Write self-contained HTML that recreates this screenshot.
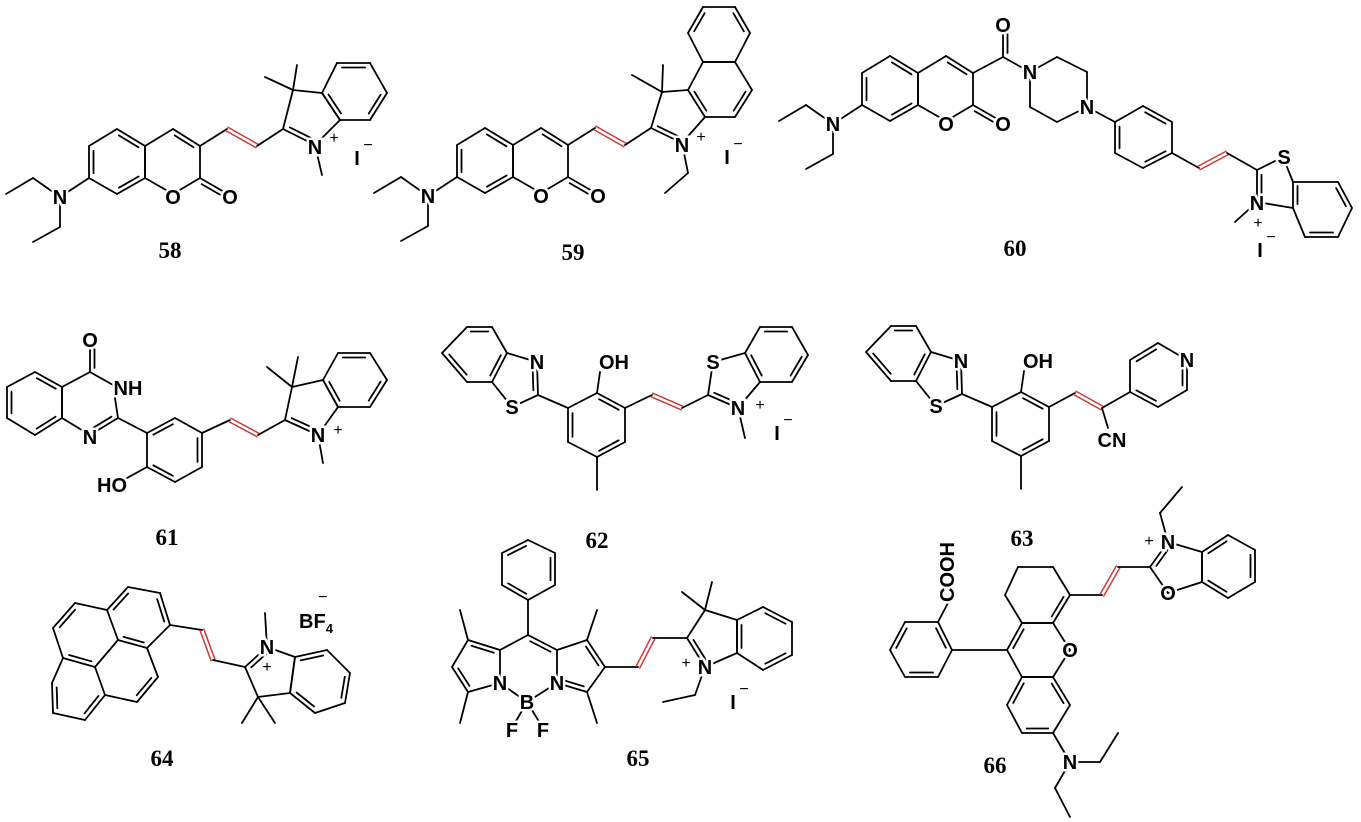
<!DOCTYPE html>
<html><head><meta charset="utf-8">
<style>
html,body{margin:0;padding:0;background:#fff;}
svg{display:block;}
.a{font-family:"Liberation Sans",sans-serif;font-weight:bold;font-size:20px;fill:#000;stroke:#fff;stroke-width:5px;paint-order:stroke;text-anchor:middle;}
.c{font-family:"Liberation Sans",sans-serif;font-size:16px;fill:#000;text-anchor:middle;}
.l{font-family:"Liberation Serif",serif;font-weight:bold;font-size:23px;fill:#000;text-anchor:middle;}
</style></head>
<body>
<svg id="s" width="1361" height="822" viewBox="0 0 1361 822" xmlns="http://www.w3.org/2000/svg">
<g id="bonds" stroke-linecap="round"></g>
<g id="txt">
<!-- 58 -->
<text class="a" x="60" y="204">N</text><text class="a" x="173" y="204">O</text><text class="a" x="230" y="204">O</text>
<text class="a" x="315" y="154">N</text><text class="c" x="334" y="143">+</text>
<text class="a" x="357" y="165">I</text><text class="c" x="368" y="150">−</text>
<!-- 59 -->
<text class="a" x="428" y="203">N</text><text class="a" x="541" y="203">O</text><text class="a" x="598" y="203">O</text>
<text class="a" x="682" y="152">N</text><text class="c" x="701" y="142">+</text>
<text class="a" x="727" y="164">I</text><text class="c" x="738" y="149">−</text>
<!-- 60 -->
<text class="a" x="833" y="131">N</text><text class="a" x="946" y="131">O</text><text class="a" x="1003" y="131">O</text>
<text class="a" x="1003" y="32">O</text><text class="a" x="1030" y="79">N</text><text class="a" x="1087" y="114">N</text>
<text class="a" x="1284" y="164">S</text><text class="a" x="1257" y="210">N</text><text class="c" x="1258" y="228">+</text>
<text class="a" x="1260" y="257">I</text><text class="c" x="1271" y="242">−</text>
<!-- 61 -->
<text class="a" x="90" y="347">O</text><text class="a" x="128" y="395">NH</text><text class="a" x="90" y="444">N</text>
<text class="a" x="112" y="492">HO</text><text class="a" x="318" y="442">N</text><text class="c" x="338" y="435">+</text>
<!-- 62 -->
<text class="a" x="537" y="369">N</text><text class="a" x="512" y="414">S</text><text class="a" x="614" y="369">OH</text>
<text class="a" x="713" y="369">S</text><text class="a" x="738" y="415">N</text><text class="c" x="760" y="410">+</text>
<text class="a" x="777" y="440">I</text><text class="c" x="788" y="425">−</text>
<!-- 63 -->
<text class="a" x="961" y="368">N</text><text class="a" x="936" y="413">S</text><text class="a" x="1038" y="368">OH</text>
<text class="a" x="1112" y="447">CN</text><text class="a" x="1187" y="367">N</text>
<!-- 64 -->
<text class="a" x="267" y="654">N</text><text class="c" x="267" y="672">+</text>
<text class="a" x="316" y="628">BF<tspan font-size="13" dy="5">4</tspan></text><text class="c" x="323" y="602">−</text>
<!-- 65 -->
<text class="a" x="500" y="690">N</text><text class="a" x="527" y="709">B</text><text class="a" x="557" y="690">N</text>
<text class="a" x="512" y="737">F</text><text class="a" x="543" y="737">F</text>
<text class="a" x="705" y="674">N</text><text class="c" x="686" y="668">+</text>
<text class="a" x="733" y="709">I</text><text class="c" x="744" y="694">−</text>
<!-- 66 -->
<text class="a" x="1070" y="657">O</text><text class="a" x="1070" y="769">N</text>
<text class="a" x="1168" y="600">O</text><text class="a" x="1168" y="549">N</text><text class="c" x="1149" y="546">+</text>
<text class="a" x="0" y="0" transform="translate(947,572) rotate(-90)" dy="7">COOH</text>
<!-- compound numbers -->
<text class="l" x="170" y="258">58</text><text class="l" x="573" y="260">59</text><text class="l" x="1015" y="256">60</text>
<text class="l" x="167" y="545">61</text><text class="l" x="597" y="548">62</text><text class="l" x="1022" y="546">63</text>
<text class="l" x="162" y="766">64</text><text class="l" x="638" y="766">65</text><text class="l" x="995" y="773">66</text>
</g>
</svg>
<script>
let out='';
function ln(a,b,col,w){out+=`<line x1="${a[0]}" y1="${a[1]}" x2="${b[0]}" y2="${b[1]}" stroke="${col||'#000'}" stroke-width="${w||1.8}"/>`;}
function s(){const p=arguments;for(let i=0;i<p.length-1;i++)ln(p[i],p[i+1]);}
function dd(a,b,c){ln(a,b);const dx=b[0]-a[0],dy=b[1]-a[1],L=Math.hypot(dx,dy);let nx=-dy/L,ny=dx/L;const mx=(a[0]+b[0])/2,my=(a[1]+b[1])/2;if((c[0]-mx)*nx+(c[1]-my)*ny<0){nx=-nx;ny=-ny;}const o=4.5,t=0.15;ln([a[0]+dx*t+nx*o,a[1]+dy*t+ny*o],[b[0]-dx*t+nx*o,b[1]-dy*t+ny*o]);}
function red(a,b){const dx=b[0]-a[0],dy=b[1]-a[1],L=Math.hypot(dx,dy);const nx=-dy/L*2,ny=dx/L*2;ln([a[0]+nx,a[1]+ny],[b[0]+nx,b[1]+ny],'#d0383a',1.5);ln([a[0]-nx,a[1]-ny],[b[0]-nx,b[1]-ny],'#d0383a',1.5);}
function ring(p,d){let cx=0,cy=0;p.forEach(q=>{cx+=q[0];cy+=q[1]});cx/=p.length;cy/=p.length;for(let i=0;i<p.length;i++){const a=p[i],b=p[(i+1)%p.length];if(d.includes(i))dd(a,b,[cx,cy]);else ln(a,b);}}
function grp(dx,dy,f){out+=`<g transform="translate(${dx},${dy})">`;f();out+='</g>';}

function coum(){
 ring([[117,129],[145,146],[145,178],[117,194],[89,178],[89,146]],[0,2,4]);
 ring([[145,146],[173,129],[200,146],[200,178],[173,194],[145,178]],[1]);
 dd([200,178],[226,193],[200,200]);
 s([89,178],[60,197]);s([60,197],[33,178],[6,194]);s([60,197],[60,227],[33,242]);
}
grp(0,0,()=>{coum();s([200,146],[227,129]);red([227,129],[257,146]);s([257,146],[283,129]);});
s([283,129],[293,90],[322,93],[340,120],[315,145]);dd([283,129],[315,145],[310,115]);
ring([[322,93],[337,63],[370,63],[387,93],[370,120],[340,120]],[1,3,5]);
s([293,90],[265,77]);s([293,90],[297,65]);s([315,145],[322,175]);
grp(368,-1,()=>{coum();s([200,146],[227,129]);red([227,129],[257,146]);s([257,146],[283,129]);});
s([651,128],[662,92],[688,90]);s([705,117],[682,143]);dd([651,128],[682,143],[675,110]);
ring([[703,62],[735,62],[752,90],[735,117],[705,117],[688,90]],[2,4]);
ring([[703,62],[688,33],[703,7],[735,7],[750,33],[735,62]],[1,3]);
s([662,92],[632,75]);s([662,92],[663,65]);s([682,143],[688,173],[665,193]);
grp(773,-73,()=>{coum();});
s([973,73],[1003,57],[1030,72]);dd([1003,57],[1003,30],[1015,45]);
ring([[1030,72],[1057,57],[1087,72],[1087,107],[1057,122],[1030,107]],[]);
s([1087,107],[1115,122]);
ring([[1115,122],[1143,106],[1172,122],[1172,153],[1143,168],[1115,153]],[1,3,5]);
s([1172,153],[1199,168]);red([1199,168],[1227,153]);s([1227,153],[1257,170]);
s([1257,170],[1283,157]);s([1283,157],[1293,182]);s([1293,208],[1257,202]);dd([1257,170],[1257,202],[1275,188]);
ring([[1293,182],[1338,182],[1352,208],[1338,237],[1305,237],[1293,208]],[1,3,5]);
s([1257,202],[1235,222]);
ring([[35,372],[62,387],[62,418],[35,435],[7,418],[7,387]],[0,2,4]);
ring([[62,387],[90,372],[113,385],[118,418],[90,435],[62,418]],[3]);
dd([90,372],[90,345],[100,358]);
s([118,418],[147,433]);
ring([[147,433],[175,418],[202,433],[202,467],[175,482],[147,467]],[0,2,4]);
s([147,467],[127,478]);
s([202,433],[230,420]);red([230,420],[258,435]);s([258,435],[285,420]);
s([285,420],[292,387],[323,380],[338,407],[318,435]);dd([285,420],[318,435],[312,405]);
ring([[323,380],[338,353],[370,353],[387,380],[370,407],[338,407]],[1,3,5]);
s([292,387],[267,367]);s([292,387],[298,357]);s([318,435],[323,463]);
function bth(){
 ring([[467,327],[492,327],[507,353],[492,382],[467,382],[442,353]],[0,2,4]);
 s([507,353],[537,362]);dd([537,362],[538,395],[520,385]);s([538,395],[512,407],[492,382]);
 s([538,395],[568,408]);
 ring([[568,408],[597,393],[625,408],[625,442],[597,457],[568,442]],[1,3,5]);
 s([597,393],[600,372]);s([597,457],[597,490]);
}
bth();
s([625,408],[652,395]);red([652,395],[682,408]);s([682,408],[708,395]);
s([708,395],[713,362]);s([713,362],[745,353]);s([760,382],[738,408]);dd([708,395],[738,408],[728,380]);
ring([[745,353],[760,327],[792,327],[808,355],[792,382],[760,382]],[1,3,5]);
s([738,408],[745,438]);
grp(424,-1,bth);
s([1049,407],[1075,393]);red([1075,393],[1102,408]);s([1102,408],[1108,428]);s([1102,408],[1130,392]);
ring([[1130,392],[1130,360],[1158,343],[1187,360],[1187,390],[1158,407]],[1,3,5]);
const A=[128,587],B=[160,593],C=[170,625],D=[147,648],E=[118,640],F=[107,610],G=[75,603],H=[53,628],I=[63,658],J=[95,667],K=[52,683],Lq=[53,713],M=[85,720],N=[105,695],O=[137,702],P=[158,677];
const c1=[138,617],c2=[85,634],c3=[75,690],c4=[126,671];
ln(A,B);dd(B,C,c1);ln(C,D);dd(D,E,c1);ln(E,F);dd(F,A,c1);
ln(F,G);dd(G,H,c2);ln(H,I);dd(I,J,c2);ln(J,E);
ln(I,K);dd(K,Lq,c3);ln(Lq,M);dd(M,N,c3);ln(N,J);
ln(N,O);dd(O,P,c4);ln(P,D);
s(C,[202,630]);red([202,630],[213,660]);s([213,660],[245,667]);
dd([245,667],[267,647],[272,675]);s([267,647],[295,657],[290,693],[258,697],[245,667]);
ring([[295,657],[327,650],[350,673],[345,703],[315,713],[290,693]],[0,2,4]);
s([258,697],[242,723]);s([258,697],[275,723]);s([267,647],[265,613]);
ring([[502,553],[528,540],[555,553],[555,585],[528,600],[502,585]],[0,2,4]);
s([528,600],[528,635]);
s([528,635],[500,650]);dd([528,635],[557,650],[528,665]);
s([500,650],[500,683],[468,692]);dd([468,692],[452,667],[480,665]);s([452,667],[468,640]);dd([468,640],[500,650],[480,665]);
s([557,650],[557,683]);dd([557,683],[587,692],[575,665]);s([587,692],[605,667]);dd([605,667],[587,640],[575,665]);s([587,640],[557,650]);
s([468,640],[460,610]);s([468,692],[460,723]);s([587,640],[597,610]);s([587,692],[597,723]);
s([500,683],[527,702],[557,683]);s([527,702],[512,728]);s([527,702],[543,728]);
s([605,667],[638,667]);red([638,667],[653,638]);s([653,638],[687,638]);
dd([687,638],[705,667],[710,640]);s([687,638],[705,610],[737,620],[737,653],[705,667]);
ring([[737,620],[763,607],[792,622],[792,655],[763,670],[737,653]],[1,3,5]);
s([705,610],[682,592]);s([705,610],[712,582]);s([705,667],[695,695],[663,702]);
ring([[1018,567],[1053,567],[1070,595],[1053,623],[1022,623],[1005,595]],[2]);
ring([[1022,623],[1053,623],[1070,650],[1053,677],[1022,677],[1007,650]],[5]);
ring([[1022,677],[1053,677],[1070,705],[1053,733],[1022,733],[1007,705]],[1,3,5]);
s([1053,733],[1070,762]);s([1070,762],[1100,762],[1118,733]);s([1070,762],[1055,788],[1070,817]);
s([1007,650],[952,650]);
ring([[952,650],[938,622],[905,622],[890,650],[905,677],[938,677]],[0,2,4]);
s([938,622],[948,603]);
s([1070,595],[1102,595]);red([1102,595],[1118,567]);s([1118,567],[1150,567]);
dd([1150,567],[1168,542],[1180,567]);s([1168,542],[1202,552],[1202,582],[1168,593],[1150,567]);
ring([[1202,552],[1228,535],[1255,550],[1255,582],[1228,598],[1202,582]],[0,2,4]);
s([1168,542],[1160,513],[1182,487]);
document.getElementById('bonds').innerHTML=out;
</script>
</body></html>
